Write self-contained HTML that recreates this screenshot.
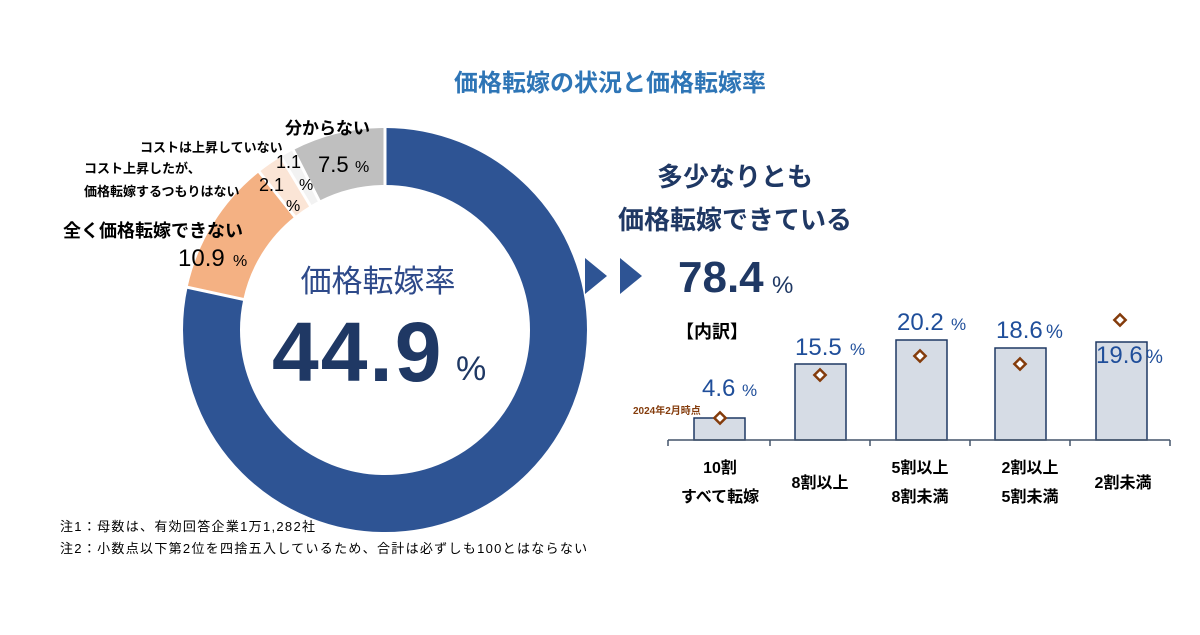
<!DOCTYPE html>
<html><head><meta charset="utf-8"><style>
body{margin:0;background:#fff;width:1200px;height:630px;overflow:hidden}
svg text{font-family:"Liberation Sans","Noto Sans CJK JP",sans-serif}
</style></head><body>
<svg width="1200" height="630" viewBox="0 0 1200 630" xmlns="http://www.w3.org/2000/svg">
<text x="610" y="91" text-anchor="middle" font-size="24" font-weight="bold" fill="#2e75b6">価格転嫁の状況と価格転嫁率</text>
<g transform="translate(385,330) rotate(-90)" fill="none" stroke-width="57">
<circle r="173.5" stroke="#2e5494" stroke-dasharray="854.6 2000" stroke-dashoffset="0"/>
<circle r="173.5" stroke="#f4b183" stroke-dasharray="118.8 2000" stroke-dashoffset="-854.6"/>
<circle r="173.5" stroke="#fbe5d6" stroke-dasharray="22.9 2000" stroke-dashoffset="-973.4"/>
<circle r="173.5" stroke="#f2f2f2" stroke-dasharray="12 2000" stroke-dashoffset="-996.3"/>
<circle r="173.5" stroke="#bfbfbf" stroke-dasharray="81.8 2000" stroke-dashoffset="-1008.3"/>
<g stroke="#fff" stroke-width="3">
<line x1="140" y1="0" x2="210" y2="0"/>
<line x1="140" y1="0" x2="210" y2="0" transform="rotate(282.2)"/>
<line x1="140" y1="0" x2="210" y2="0" transform="rotate(321.5)"/>
<line x1="140" y1="0" x2="210" y2="0" transform="rotate(329)"/>
<line x1="140" y1="0" x2="210" y2="0" transform="rotate(333)"/>
</g>
</g>
<text x="378" y="292" text-anchor="middle" font-size="31" fill="#2e4a8a">価格転嫁率</text>
<text x="272" y="381" font-size="84" fill="#1f3864" font-weight="bold" letter-spacing="2">44.9</text>
<text x="456" y="380" font-size="34" fill="#1f3864">%</text>
<text x="285" y="134" font-size="17" font-weight="bold" fill="#000">分からない</text>
<text x="318" y="172" font-size="22" fill="#000">7.5</text><text x="355" y="172" font-size="16" fill="#000">%</text>
<text x="140" y="152" font-size="13" font-weight="bold" fill="#000">コストは上昇していない</text>
<text x="276" y="168" font-size="18" fill="#000">1.1</text><text x="299" y="190" font-size="16" fill="#000">%</text>
<text x="84" y="173" font-size="13" font-weight="bold" fill="#000">コスト上昇したが、</text>
<text x="84" y="196" font-size="13" font-weight="bold" fill="#000">価格転嫁するつもりはない</text>
<text x="259" y="191" font-size="18" fill="#000">2.1</text><text x="286" y="211" font-size="16" fill="#000">%</text>
<text x="63" y="237" font-size="18" font-weight="bold" fill="#000">全く価格転嫁できない</text>
<text x="178" y="266" font-size="24" fill="#000">10.9</text><text x="233" y="266" font-size="16" fill="#000">%</text>
<polygon points="585,258 607,276 585,294" fill="#2e5494"/>
<polygon points="620,258 642,276 620,294" fill="#2e5494"/>
<text x="735" y="186" text-anchor="middle" font-size="26" font-weight="bold" fill="#1f3864">多少なりとも</text>
<text x="735" y="229" text-anchor="middle" font-size="26" font-weight="bold" fill="#1f3864">価格転嫁できている</text>
<text x="678" y="292" font-size="44" font-weight="bold" fill="#1f3864">78.4</text>
<text x="772" y="293" font-size="24" fill="#1f3864">%</text>
<text x="676" y="338" font-size="18" font-weight="bold" fill="#000">【内訳】</text>
<g fill="#d6dce5" stroke="#1f3864" stroke-width="1.5">
<rect x="694" y="418" width="51" height="22"/>
<rect x="795" y="364" width="51" height="76"/>
<rect x="896" y="340" width="51" height="100"/>
<rect x="995" y="348" width="51" height="92"/>
<rect x="1096" y="342" width="51" height="98"/>
</g>
<g stroke="#44546a" stroke-width="1.5">
<line x1="668" y1="440" x2="1170" y2="440"/>
<line x1="668" y1="440" x2="668" y2="446"/><line x1="770" y1="440" x2="770" y2="446"/>
<line x1="870" y1="440" x2="870" y2="446"/><line x1="970" y1="440" x2="970" y2="446"/>
<line x1="1070" y1="440" x2="1070" y2="446"/><line x1="1170" y1="440" x2="1170" y2="446"/>
</g>
<g fill="#fff" stroke="#843c0c" stroke-width="2.5">
<rect x="-4" y="-4" width="8" height="8" transform="translate(720,418) rotate(45)"/>
<rect x="-4" y="-4" width="8" height="8" transform="translate(820,375) rotate(45)"/>
<rect x="-4" y="-4" width="8" height="8" transform="translate(920,356) rotate(45)"/>
<rect x="-4" y="-4" width="8" height="8" transform="translate(1020,364) rotate(45)"/>
<rect x="-4" y="-4" width="8" height="8" transform="translate(1120,320) rotate(45)"/>
</g>
<text x="633" y="414" font-size="10" font-weight="bold" fill="#843c0c">2024年2月時点</text>
<g fill="#1f4e9a" font-size="24">
<text x="702" y="396">4.6</text><text x="742" y="396" font-size="17">%</text>
<text x="795" y="355">15.5</text><text x="850" y="355" font-size="17">%</text>
<text x="897" y="330">20.2</text><text x="951" y="330" font-size="17">%</text>
<text x="996" y="338">18.6</text><text x="1046" y="338" font-size="19">%</text>
<text x="1096" y="363">19.6</text><text x="1146" y="363" font-size="19">%</text>
</g>
<g font-size="16" font-weight="bold" fill="#000" text-anchor="middle">
<text x="720" y="473">10割</text><text x="720" y="502">すべて転嫁</text>
<text x="820" y="488">8割以上</text>
<text x="920" y="473">5割以上</text><text x="920" y="502">8割未満</text>
<text x="1030" y="473">2割以上</text><text x="1030" y="502">5割未満</text>
<text x="1123" y="488">2割未満</text>
</g>
<text x="60" y="531" font-size="13" letter-spacing="1.3" fill="#000">注1：母数は、有効回答企業1万1,282社</text>
<text x="60" y="553" font-size="13" letter-spacing="1.3" fill="#000">注2：小数点以下第2位を四捨五入しているため、合計は必ずしも100とはならない</text>
</svg>
</body></html>
